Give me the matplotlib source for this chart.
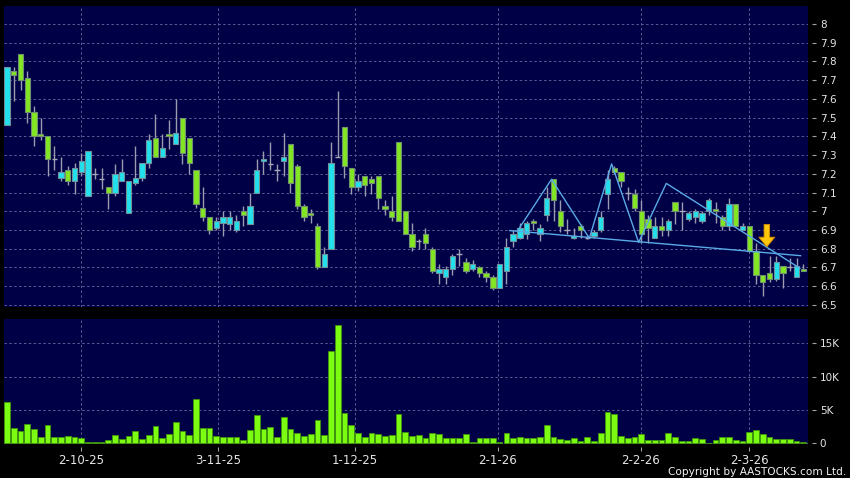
import numpy as np
import matplotlib
matplotlib.use('Agg')
import matplotlib.pyplot as plt

# daily bars, oldest first (index = trading day)
opens = [7.46, 7.75, 7.84, 7.71, 7.53, 7.41, 7.40, 7.28, 7.18, 7.22,
         7.16, 7.21, 7.08, 7.20, 7.17, 7.13, 7.10, 7.16, 6.99, 7.15,
         7.18, 7.26, 7.39, 7.29, 7.41, 7.36, 7.50, 7.39, 7.22, 7.02,
         6.97, 6.91, 6.94, 6.93, 6.90, 7.00, 6.93, 7.10, 7.27, 7.25,
         7.22, 7.27, 7.36, 7.24, 7.03, 6.99, 6.92, 6.70, 6.80, 7.29,
         7.45, 7.23, 7.13, 7.19, 7.17, 7.19, 7.03, 7.00, 7.37, 7.00,
         6.88, 6.84, 6.88, 6.80, 6.67, 6.65, 6.69, 6.77, 6.73, 6.69,
         6.70, 6.67, 6.65, 6.59, 6.68, 6.84, 6.86, 6.88, 6.95, 6.88,
         6.98, 7.17, 7.00, 6.90, 6.86, 6.92, 6.86, 6.87, 6.90, 7.09,
         7.23, 7.21, 7.10, 7.09, 7.00, 6.96, 6.86, 6.92, 6.90, 7.05,
         7.00, 6.96, 6.97, 6.95, 7.00, 7.01, 6.97, 6.92, 7.04, 6.90,
         6.92, 6.79, 6.66, 6.67, 6.64, 6.71, 6.70, 6.65, 6.69]
highs = [7.77, 7.77, 7.84, 7.75, 7.56, 7.50, 7.40, 7.35, 7.29, 7.24,
         7.26, 7.31, 7.32, 7.23, 7.23, 7.13, 7.25, 7.28, 7.16, 7.35,
         7.26, 7.41, 7.52, 7.41, 7.49, 7.60, 7.50, 7.39, 7.22, 7.13,
         6.97, 6.97, 7.00, 7.00, 6.98, 7.03, 7.10, 7.28, 7.32, 7.37,
         7.25, 7.42, 7.36, 7.25, 7.04, 7.01, 6.94, 6.81, 7.37, 7.64,
         7.45, 7.23, 7.20, 7.19, 7.19, 7.19, 7.06, 7.08, 7.37, 7.00,
         6.94, 6.85, 6.91, 6.81, 6.72, 6.71, 6.77, 6.80, 6.75, 6.74,
         6.71, 6.68, 6.66, 6.72, 6.86, 6.90, 6.94, 6.95, 6.96, 6.93,
         7.13, 7.17, 7.06, 6.96, 6.91, 6.93, 6.87, 6.90, 7.00, 7.22,
         7.24, 7.21, 7.13, 7.12, 7.06, 6.98, 6.97, 6.97, 6.96, 7.05,
         7.05, 7.00, 7.01, 7.00, 7.07, 7.05, 6.98, 7.07, 7.04, 6.94,
         6.92, 6.83, 6.66, 6.76, 6.76, 6.71, 6.75, 6.75, 6.72]
lows = [7.46, 7.59, 7.65, 7.47, 7.35, 7.38, 7.19, 7.22, 7.16, 7.14,
        7.09, 7.19, 7.08, 7.17, 7.12, 7.01, 7.08, 7.16, 6.99, 7.14,
        7.16, 7.23, 7.29, 7.29, 7.33, 7.36, 7.25, 7.20, 7.02, 6.95,
        6.88, 6.90, 6.87, 6.90, 6.89, 6.92, 6.93, 7.10, 7.20, 7.22,
        7.16, 7.19, 7.10, 7.01, 6.95, 6.94, 6.69, 6.70, 6.80, 7.29,
        7.18, 7.09, 7.11, 7.08, 7.09, 7.01, 6.98, 6.95, 6.95, 6.88,
        6.79, 6.80, 6.80, 6.67, 6.61, 6.61, 6.66, 6.71, 6.67, 6.68,
        6.65, 6.62, 6.58, 6.59, 6.61, 6.81, 6.85, 6.85, 6.90, 6.84,
        6.95, 6.95, 6.89, 6.88, 6.85, 6.86, 6.85, 6.86, 6.89, 7.01,
        7.20, 7.13, 7.06, 7.00, 6.83, 6.83, 6.86, 6.87, 6.87, 6.93,
        6.90, 6.95, 6.94, 6.94, 6.98, 6.94, 6.90, 6.90, 6.92, 6.90,
        6.78, 6.61, 6.55, 6.62, 6.63, 6.59, 6.68, 6.65, 6.68]
closes = [7.77, 7.73, 7.70, 7.53, 7.40, 7.40, 7.28, 7.28, 7.21, 7.16,
          7.23, 7.27, 7.32, 7.20, 7.17, 7.10, 7.20, 7.21, 7.16, 7.18,
          7.26, 7.38, 7.29, 7.34, 7.40, 7.42, 7.31, 7.26, 7.04, 6.97,
          6.90, 6.95, 6.97, 6.97, 6.95, 6.98, 7.03, 7.22, 7.28, 7.25,
          7.22, 7.29, 7.15, 7.03, 6.97, 6.98, 6.70, 6.77, 7.26, 7.29,
          7.24, 7.13, 7.16, 7.14, 7.15, 7.07, 7.01, 6.97, 6.95, 6.88,
          6.81, 6.84, 6.83, 6.68, 6.69, 6.69, 6.76, 6.77, 6.68, 6.72,
          6.67, 6.65, 6.59, 6.72, 6.81, 6.88, 6.91, 6.94, 6.94, 6.91,
          7.07, 7.06, 6.92, 6.90, 6.87, 6.90, 6.86, 6.89, 6.97, 7.17,
          7.21, 7.16, 7.10, 7.02, 6.88, 6.91, 6.92, 6.90, 6.95, 7.00,
          7.00, 6.99, 7.00, 6.99, 7.06, 7.00, 6.92, 7.04, 6.92, 6.92,
          6.79, 6.66, 6.62, 6.64, 6.73, 6.67, 6.70, 6.71, 6.68]
volumes = [6150, 2350, 1900, 2850, 2150, 950, 2800, 950, 950, 1150,
           1000, 850, 150, 200, 150, 500, 1250, 600, 1150, 1850,
           600, 1250, 2550, 750, 1350, 3150, 1800, 1250, 6650, 2350,
           2350, 1150, 1000, 950, 950, 500, 2000, 4250, 2200, 2450,
           950, 3900, 2150, 1500, 1150, 1450, 3450, 1250, 13850, 17750,
           4500, 2700, 1550, 1000, 1500, 1350, 1100, 1200, 4400, 1650,
           1150, 1200, 850, 1600, 1450, 750, 750, 850, 1450, 200,
           850, 850, 750, 150, 1500, 750, 950, 800, 800, 950,
           2700, 950, 700, 450, 750, 400, 950, 350, 1600, 4700,
           4400, 1050, 800, 950, 1350, 550, 500, 500, 1500, 950,
           400, 400, 800, 650, 100, 500, 950, 950, 550, 300,
           1700, 1950, 1350, 950, 600, 600, 600, 350, 150]

date_labels = ['2-10-25', '3-11-25', '1-12-25', '2-1-26', '2-2-26', '2-3-26']
date_pos = [11, 31.3, 51.5, 72.7, 93.9, 110]

# drawn pattern lines
zigzag_x = [75.8, 80.7, 86.3, 89.6, 93.6, 97.7, 117.5]
zigzag_y = [6.904, 7.171, 6.856, 7.253, 6.834, 7.149, 6.696]
neck_x = [74.5, 117.6]
neck_y = [6.897, 6.763]
arrow_x, arrow_top, arrow_tip = 112.6, 6.93, 6.81

BG = '#000046'
GREEN = '#82e622'
CYAN = '#22e0ec'
GRID = '#5c5c94'

plt.rcParams['font.family'] = 'DejaVu Sans'

fig = plt.figure(figsize=(8.5, 4.78), dpi=100, facecolor='black')
W, H = 850, 478
ax = fig.add_axes([4 / W, 1 - 307 / H, 804 / W, 301 / H], facecolor=BG)
axv = fig.add_axes([4 / W, 1 - 444 / H, 804 / W, 125 / H], facecolor=BG)

o, h, l, c = map(np.array, (opens, highs, lows, closes))
x = np.arange(len(o))
up = c > o
dn = c < o
flat = c == o

ax.vlines(x, l, h, color='#9c9cb0', lw=1, zorder=2)
bot = np.minimum(o, c)
hgt = np.abs(c - o)
ax.bar(x[up], hgt[up], bottom=bot[up], width=0.78, color=CYAN,
       edgecolor='#70909a', lw=0.8, zorder=3)
ax.bar(x[dn], hgt[dn], bottom=bot[dn], width=0.78, color=GREEN,
       edgecolor='#709070', lw=0.8, zorder=3)
ax.hlines(c[flat], x[flat] - 0.4, x[flat] + 0.4, color='#a8a8b8', lw=1, zorder=3)

ax.plot(zigzag_x, zigzag_y, color='#5aaae6', lw=1, zorder=4)
ax.plot(neck_x, neck_y, color='#5aaae6', lw=1, zorder=4)
ax.annotate('', xy=(arrow_x, arrow_tip), xytext=(arrow_x, arrow_top),
            arrowprops=dict(arrowstyle='simple,head_length=0.7,head_width=1.15,tail_width=0.4',
                            fc='#ffc60a', ec='#d08a00', lw=0.6,
                            shrinkA=0, shrinkB=0, mutation_scale=10), zorder=5)

axv.bar(x, volumes, width=0.85, color='#7cfc10', edgecolor='#3e960c', lw=0.6, zorder=3)

for a in (ax, axv):
    a.set_xlim(-0.45, 118.7)
    for s in a.spines.values():
        s.set_visible(False)
    a.spines['right'].set_position(('outward', 3))
    a.spines['bottom'].set_position(('outward', 2))
    a.set_xticks(date_pos)
    a.grid(True, color=GRID, lw=0.7, ls=(0, (2.5, 2.5)), zorder=0)
    a.yaxis.tick_right()
    a.tick_params(axis='y', length=3, width=0.8, color='#a0a0a0', pad=2.5,
                  labelcolor='#e6e6e6', labelsize=7.5)

ax.set_ylim(6.489, 8.096)
ticks = np.round(np.arange(6.5, 8.01, 0.1), 1)
ax.set_yticks(ticks)
ax.set_yticklabels(['%g' % v for v in ticks])
ax.tick_params(axis='x', length=0, labelbottom=False)

axv.set_ylim(-100, 18650)
axv.set_yticks([0, 5000, 10000, 15000])
axv.set_yticklabels(['0', '5K', '10K', '15K'])
axv.set_xticklabels(date_labels)
axv.tick_params(axis='x', length=3, width=0.8, color='#a0a0a0', pad=2,
                labelcolor='#e6e6e6', labelsize=8.5)

fig.text(846 / W, 1 - 472 / H, 'Copyright by AASTOCKS.com Ltd.', ha='right', va='center',
         color='#f0f0f0', fontsize=7.6)

fig.savefig('out.png', dpi=100, facecolor='black')
